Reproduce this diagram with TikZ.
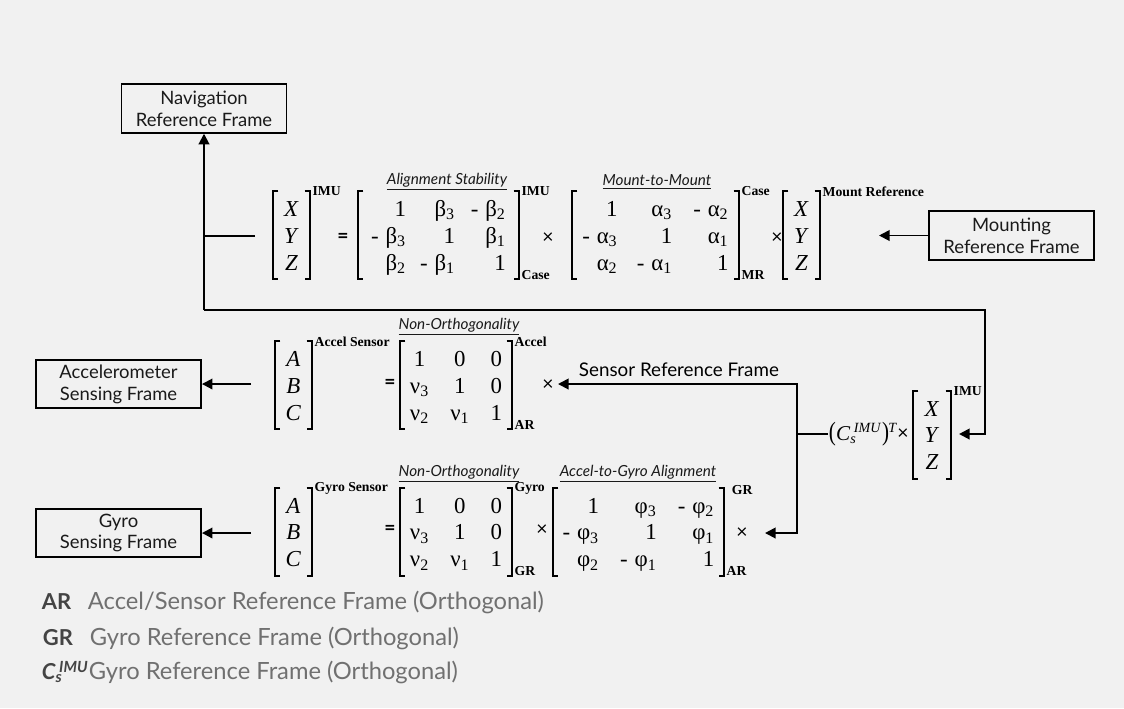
\documentclass[tikz,border=0pt]{standalone}
\usepackage{fontspec}
\usepackage{graphicx}
\setmainfont{Lato}
\newfontfamily\eqfont{Liberation Serif}
\usetikzlibrary{arrows.meta,positioning}

\definecolor{bgcol}{HTML}{F1F1F1}
\definecolor{inkcol}{HTML}{1A1A1A}
\definecolor{legcol}{HTML}{707070}
\definecolor{keycol}{HTML}{444444}

\newcommand{\lo}[1]{\textsubscript{#1}}
\newcommand{\ms}{-\hspace{0.3em}}

\begin{document}
\begin{tikzpicture}[x=0.02cm, y=-0.02cm, >={Triangle[length=6pt,width=6pt]},
    line width=1.1pt,
    frame/.style={draw, line width=1.1pt, align=center, minimum width=3.3cm,
      minimum height=0.97cm, inner sep=1pt, text=inkcol, font=\fontsize{10.5}{12.5}\selectfont},
    bmat/.style={anchor=west, inner xsep=0pt, inner ysep=0pt,
      font=\eqfont\fontsize{13}{15.3}\selectfont},
    bracket/.style={line width=1.1pt},
    idx/.style={anchor=west, inner sep=0pt, font=\eqfont\bfseries\fontsize{7.8}{9}\selectfont},
    mtitle/.style={inner sep=0pt, text=inkcol, font=\itshape\fontsize{8.7}{10}\selectfont},
    op/.style={inner sep=0pt, font=\fontsize{11}{12}\selectfont},
    key/.style={anchor=west, inner sep=0pt, text=keycol, font=\bfseries\fontsize{12.5}{14}\selectfont},
    legend/.style={anchor=west, inner sep=0pt, text=legcol, font=\fontsize{13.5}{15}\selectfont}]

  \fill[bgcol] (0,0) rectangle (1124,708);

  % frames
  \node[frame] (nav) at (204,108.5) {Navigation\\Reference Frame};
  \node[frame] (mount) at (1011.5,235.5) {Mounting\\Reference Frame};
  \node[frame] (acc) at (118.5,384) {Accelerometer\\Sensing Frame};
  \node[frame] (gyr) at (118.5,533) {Gyro\\Sensing Frame};

  % top equation
  \node[bmat, minimum width=0.7cm] (v1) at (273,238)
    {\begin{tabular}{@{}c@{}}\textit{X}\\\textit{Y}\\\textit{Z}\end{tabular}};
  \node[idx] at ([xshift=1pt,yshift=3pt]v1.north east) {IMU};
  \node[op] at (343,238) {\textbf{=}};
  \node[bmat, minimum width=3.18cm] (M1) at (358,238)
    {\begin{tabular}{@{}r@{\hspace{8pt}}r@{\hspace{9pt}}r@{}}
      1 & β\lo{3} & \ms β\lo{2}\\
      \ms β\lo{3} & 1 & β\lo{1}\\
      β\lo{2} & \ms β\lo{1} & 1\end{tabular}};
  \node[idx] at ([xshift=1pt,yshift=3pt]M1.north east) {IMU};
  \node[idx, anchor=base west] at ([xshift=1pt]M1.south east) {Case};
  \node[mtitle] at (447,182) {\underline{Alignment Stability}};
  \node[op] at (548,238) {×};
  \node[bmat, minimum width=3.3cm] (M2) at (572,238)
    {\begin{tabular}{@{}r@{\hspace{11pt}}r@{\hspace{12pt}}r@{}}
      1 & α\lo{3} & \ms α\lo{2}\\
      \ms α\lo{3} & 1 & α\lo{1}\\
      α\lo{2} & \ms α\lo{1} & 1\end{tabular}};
  \node[idx] at ([xshift=1pt,yshift=3pt]M2.north east) {Case};
  \node[idx, anchor=base west] at ([xshift=1pt]M2.south east) {MR};
  \node[mtitle] at (657,182) {\underline{Mount-to-Mount}};
  \node[op] at (777,238) {×};
  \node[bmat, minimum width=0.7cm] (v2) at (783,238)
    {\begin{tabular}{@{}c@{}}\textit{X}\\\textit{Y}\\\textit{Z}\end{tabular}};
  \node[idx] at ([xshift=1pt,yshift=3pt]v2.north east) {Mount Reference};

  % accelerometer equation
  \node[bmat, minimum width=0.7cm] (v3) at (275,388)
    {\begin{tabular}{@{}c@{}}\textit{A}\\\textit{B}\\\textit{C}\end{tabular}};
  \node[idx] at ([xshift=1pt,yshift=3pt]v3.north east) {Accel Sensor};
  \node[op] at (390,384) {\textbf{=}};
  \node[bmat, minimum width=2.2cm] (M3) at (400,388)
    {\begin{tabular}{@{}c@{\hspace{12pt}}c@{\hspace{12pt}}c@{}}
      1 & 0 & 0\\
      ν\lo{3} & 1 & 0\\
      ν\lo{2} & ν\lo{1} & 1\end{tabular}};
  \node[idx] at ([xshift=1pt,yshift=3pt]M3.north east) {Accel};
  \node[idx, anchor=base west] at ([xshift=1pt]M3.south east) {AR};
  \node[mtitle] at (459,327) {\underline{Non-Orthogonality}};
  \node[op] at (548,385) {×};

  % IMU term
  \node[anchor=west, inner sep=0pt, font=\eqfont\fontsize{12}{14}\selectfont] (expr) at (828,434)
    {\scalebox{1}[1.25]{(}\textit{C}\textsubscript{\textit{s}}\hspace{-1.5pt}\textsuperscript{\textit{IMU}}\scalebox{1}[1.25]{)}\hspace{-0.5pt}\textsuperscript{\textit{T}}};
  \node[op] at (903,434) {×};
  \node[bmat, minimum width=0.72cm] (v4) at (913,437.5)
    {\begin{tabular}{@{}c@{}}\textit{X}\\\textit{Y}\\\textit{Z}\end{tabular}};
  \node[idx] at ([xshift=1pt,yshift=3pt]v4.north east) {IMU};

  % gyro equation
  \node[bmat, minimum width=0.7cm] (v5) at (275,534.5)
    {\begin{tabular}{@{}c@{}}\textit{A}\\\textit{B}\\\textit{C}\end{tabular}};
  \node[idx] at ([xshift=1pt,yshift=3pt]v5.north east) {Gyro Sensor};
  \node[op] at (390,530) {\textbf{=}};
  \node[bmat, minimum width=2.2cm] (M4) at (400,534.5)
    {\begin{tabular}{@{}c@{\hspace{12pt}}c@{\hspace{12pt}}c@{}}
      1 & 0 & 0\\
      ν\lo{3} & 1 & 0\\
      ν\lo{2} & ν\lo{1} & 1\end{tabular}};
  \node[idx] at ([xshift=1pt,yshift=3pt]M4.north east) {Gyro};
  \node[idx, anchor=base west] at ([xshift=1pt]M4.south east) {GR};
  \node[mtitle] at (459,474) {\underline{Non-Orthogonality}};
  \node[op] at (542,530) {×};
  \node[bmat, minimum width=3.38cm] (M5) at (553,534.5)
    {\begin{tabular}{@{}r@{\hspace{12pt}}r@{\hspace{12pt}}r@{}}
      1 & φ\lo{3} & \ms φ\lo{2}\\
      \ms φ\lo{3} & 1 & φ\lo{1}\\
      φ\lo{2} & \ms φ\lo{1} & 1\end{tabular}};
  \node[idx] at ([xshift=4pt,yshift=2pt]M5.north east) {GR};
  \node[idx, anchor=base west] at ([xshift=1pt]M5.south east) {AR};
  \node[mtitle] at (638,474) {\underline{Accel-to-Gyro Alignment}};
  \node[op] at (742,533) {×};

  % brackets
  \foreach \m in {v1,M1,M2,v2,v3,M3,v4,v5,M4,M5}{
    \draw[bracket] ([xshift=3pt,yshift=3pt]\m.north west) -- ([yshift=3pt]\m.north west)
      -- (\m.south west) -- ([xshift=3pt]\m.south west);
    \draw[bracket] ([xshift=-3pt,yshift=3pt]\m.north east) -- ([yshift=3pt]\m.north east)
      -- (\m.south east) -- ([xshift=-3pt]\m.south east);
  }

  % connectors
  \coordinate (c1) at (nav.south |- 0,310);
  \coordinate (c2) at (985,310);
  \coordinate (imuin) at (959,434);
  \coordinate (navbr) at (255,236);
  \coordinate (mtip) at (879,235.5);
  \coordinate (c3) at (797,434);
  \coordinate (atip) at (558,384);
  \coordinate (gtip) at (765,533);
  \coordinate (aout) at (251,384);
  \coordinate (gout) at (251,533);

  \draw[->] (c1) -- (nav.south);
  \draw (navbr) -- (navbr -| c1);
  \draw[->] (c1) -- (c2) |- (imuin);
  \draw[->] (mount.west) -- (mtip);
  \draw (expr.west) -- (c3);
  \draw[->] (c3) |- (atip);
  \draw[->] (c3) |- (gtip);
  \node[anchor=south west, inner sep=0pt, font=\fontsize{10.7}{12}\selectfont] at (578,378)
    {Sensor Reference Frame};
  \draw[->] (aout) -- (acc.east);
  \draw[->] (gout) -- (gyr.east);

  % legend
  \node[key] (kar) at (41,602) {AR};
  \node[legend] at (87,602) {Accel/Sensor Reference Frame (Orthogonal)};
  \node[key] (kgr) at (42,638) {GR};
  \node[legend] at (89,638) {Gyro Reference Frame (Orthogonal)};
  \node[key] (kc) at (41,672) {\itshape C\textsubscript{s}\hspace{-2pt}\textsuperscript{IMU}};
  \node[legend] at (88,672) {Gyro Reference Frame (Orthogonal)};
\end{tikzpicture}
\end{document}
